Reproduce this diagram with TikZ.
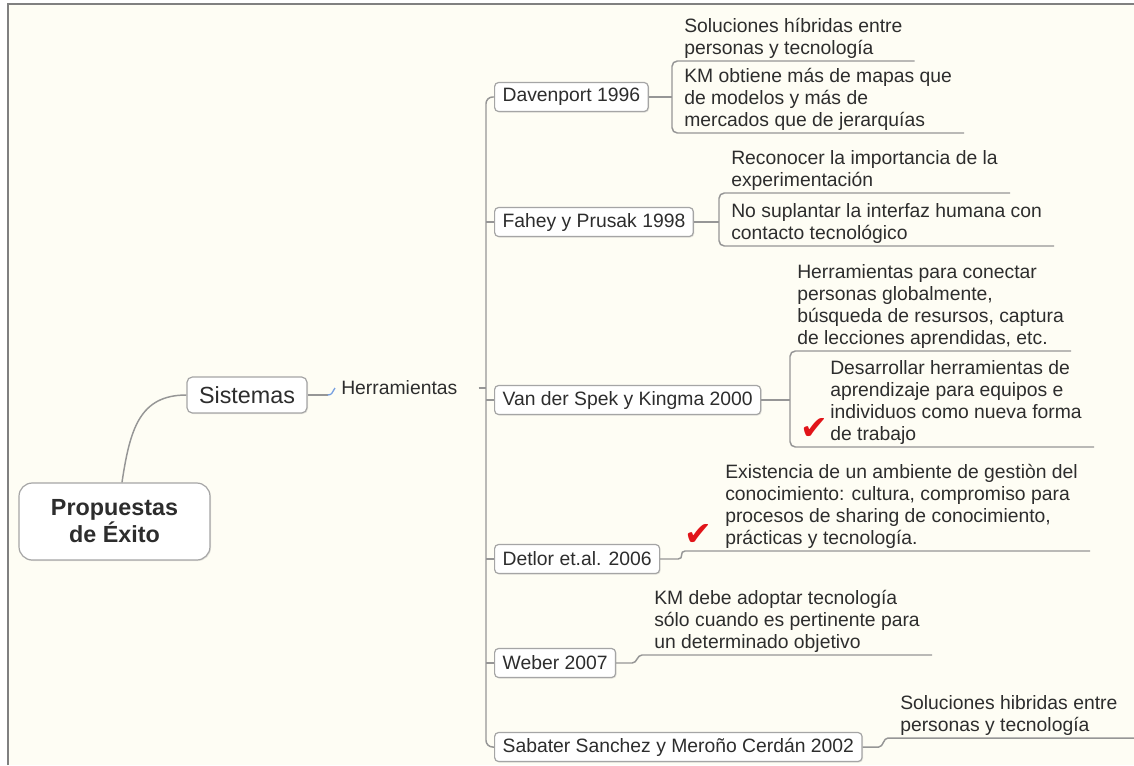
\documentclass[tikz,border=0pt]{standalone}
\usepackage{fontspec}
\setmainfont{Liberation Sans}
\newfontfamily\symfont{DejaVu Sans}
\usetikzlibrary{shadows}
\definecolor{bgc}{RGB}{254,253,244}
\definecolor{framec}{RGB}{128,128,128}
\definecolor{linec}{RGB}{150,150,150}
\definecolor{boxc}{RGB}{165,165,165}
\definecolor{txtc}{RGB}{45,45,45}
\definecolor{bluec}{RGB}{120,160,225}
\definecolor{chkc}{RGB}{225,20,25}
\begin{document}
\begin{tikzpicture}[x=0.75pt,y=-0.75pt,
  conn/.style={draw=linec,line width=1.1pt},
  bluelink/.style={draw=bluec,line width=1pt},
  bx/.style={draw=boxc,fill=white,line width=0.9pt,text=txtc,
    drop shadow={shadow xshift=0.8pt,shadow yshift=-0.8pt,opacity=0.18}},
  rootbox/.style={bx,rounded corners=10pt,minimum width=143.25pt,minimum height=57.75pt,
    align=center,inner sep=0pt,font=\fontsize{17.5}{19}\selectfont\bfseries},
  mainbox/.style={bx,rounded corners=4pt,minimum width=90pt,minimum height=27pt,
    inner sep=0pt,font=\fontsize{17.5}{20}\selectfont},
  childbox/.style={bx,rounded corners=3pt,anchor=west,inner xsep=6pt,inner ysep=0pt,
    minimum height=21.75pt,font=\fontsize{14.5}{16.5}\selectfont},
  leaf/.style={anchor=south west,align=left,inner xsep=9pt,inner ysep=0pt,text=txtc,
    font=\fontsize{14.5}{16.5}\selectfont},
  floattxt/.style={anchor=west,inner xsep=4.5pt,inner ysep=0pt,text width=98.25pt,
    align=left,text=txtc,font=\fontsize{14.5}{16.5}\selectfont},
  chk/.style={text=chkc,inner sep=0pt,font=\symfont\fontsize{25}{25}\selectfont}
]
\useasboundingbox (0,0) rectangle (1134,765);
\fill[white] (0,0) rectangle (1134,765);
\fill[bgc] (8,4) rectangle (1134,765);
\draw[framec,line width=1.5pt] (8,765) -- (8,4) -- (1134,4);

% main nodes
\node[rootbox] (root) at (114.5,521.5) {Propuestas\\de Éxito};
\node[mainbox] (sis) at (247,395) {Sistemas};
\node[floattxt] (herr) at (335,388) {Herramientas};
\coordinate (trunk) at (486,388);

% children
\node[childbox] (dav) at (494,97) {Davenport 1996};
\node[childbox] (fah) at (494,222) {Fahey y Prusak 1998};
\node[childbox] (van) at (494,400) {Van der Spek y Kingma 2000};
\node[childbox] (det) at (494,559) {Detlor et.al. 2006};
\node[childbox] (web) at (494,663) {Weber 2007};
\node[childbox] (sab) at (494,747) {Sabater Sanchez y Meroño Cerdán 2002};

% leaves
\node[leaf] (d1) at (672,61) {Soluciones híbridas entre\\personas y tecnología\strut};
\node[leaf] (d2) at (672,133) {KM obtiene más de mapas que\\de modelos y más de\\mercados que de jerarquías\strut};
\node[leaf] (f1) at (719,193) {Reconocer la importancia de la\\experimentación\strut};
\node[leaf] (f2) at (719,246) {No suplantar la interfaz humana con\\contacto tecnológico\strut};
\node[leaf,inner xsep=5.25pt] (v1) at (790,351) {Herramientas para conectar\\personas globalmente,\\búsqueda de resursos, captura\\de lecciones aprendidas, etc.\strut};
\node[leaf] (v2) at (818,447) {Desarrollar herramientas de\\aprendizaje para equipos e\\individuos como nueva forma\\de trabajo\strut};
\node[chk] (c1) at (814,429) {✔};
\coordinate (detu) at (685,551);
\node[leaf] (dl) at (713,551) {Existencia de un ambiente de gestiòn del\\conocimiento: cultura, compromiso para\\procesos de sharing de conocimiento,\\prácticas y tecnología.\strut};
\node[chk] (c2) at (698,535) {✔};
\node[leaf] (wl) at (642,655) {KM debe adoptar tecnología\\sólo cuando es pertinente para\\un determinado objetivo\strut};
\node[leaf] (sl) at (888,738) {Soluciones hibridas entre\\personas y tecnología\strut};
\coordinate (rightedge) at (1134,738);

% connectors
\draw[conn] ([xshift=5.6pt]root.north) .. controls +(8,-53) and +(-47,0) .. (sis.west);
\draw[conn] (sis.east) -- ++(20,0) coordinate (sisout);
\draw[bluelink] (sisout) .. controls +(5,0) and +(-3,4) .. (herr.west);
\draw[conn] (herr.east) -- (trunk);
\draw[conn,rounded corners=5pt] (dav.west) -| (trunk) |- (sab.west);
\foreach \n in {fah,van,det,web} \draw[conn] (\n.west) -- (\n.west -| trunk);

\draw[conn] (dav.east) -- (dav.east -| d1.south west);
\draw[conn,rounded corners=4pt] (d1.south east) -- (d1.south west) -- (d2.south west) -- (d2.south east);
\draw[conn] (fah.east) -- (fah.east -| f1.south west);
\draw[conn,rounded corners=4pt] (f1.south east) -- (f1.south west) -- (f2.south west) -- (f2.south east);
\draw[conn] (van.east) -- (van.east -| v1.south west);
\draw[conn,rounded corners=4pt] (v1.south east) -- (v1.south west) -- (v2.south -| v1.south west) -- (v2.south east);
\draw[conn] (det.east) -- ++(18,0) .. controls +(6,0) and +(-6,0) .. (detu) -- (dl.south east);
\draw[conn] (web.east) -- ++(16,0) .. controls +(5,0) and +(-5,0) .. (wl.south west) -- (wl.south east);
\draw[conn] (sab.east) -- ++(16,0) .. controls +(5,0) and +(-5,0) .. (sl.south west) -- (rightedge);
\end{tikzpicture}
\end{document}
